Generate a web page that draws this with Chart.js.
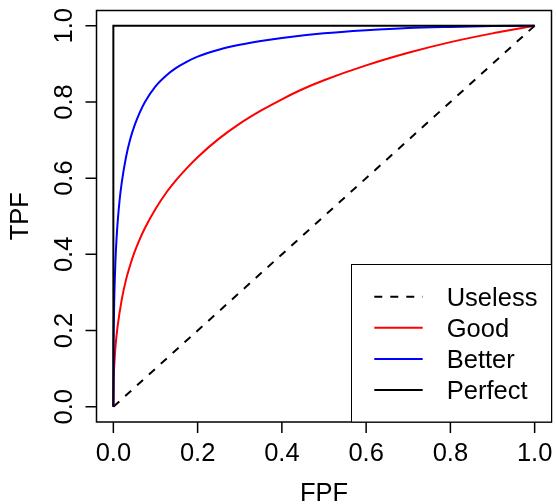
<!DOCTYPE html>
<html>
<head>
<meta charset="utf-8">
<script src="https://cdn.jsdelivr.net/npm/chart.js@4/dist/chart.umd.min.js"></script>
<style>
    html, body { margin: 0; padding: 0; background: #ffffff; }
    #wrap { width: 556px; height: 504px; position: relative; }
</style>
</head>
<body>
<div id="wrap"><canvas id="rocChart"></canvas></div>
<script>
// ROC curves (FPF on x, TPF on y)
const uselessFpf = [0, 1];
const uselessTpf = [0, 1];

const goodFpf = [0, 0.001, 0.003, 0.005, 0.01, 0.02, 0.03, 0.04, 0.05, 0.06, 0.075, 0.1, 0.125, 0.15, 0.175, 0.2, 0.25, 0.3, 0.35, 0.4, 0.45, 0.5, 0.6, 0.7, 0.8, 0.9, 0.95, 1];
const goodTpf = [0, 0.075, 0.125, 0.157, 0.21, 0.282, 0.333, 0.372, 0.405, 0.433, 0.469, 0.519, 0.561, 0.596, 0.627, 0.655, 0.703, 0.743, 0.777, 0.807, 0.834, 0.857, 0.896, 0.929, 0.957, 0.98, 0.99, 1];

const betterFpf = [0, 0.0005, 0.001, 0.002, 0.003, 0.005, 0.0075, 0.01, 0.015, 0.02, 0.03, 0.04, 0.05, 0.0625, 0.075, 0.1, 0.125, 0.15, 0.175, 0.2, 0.25, 0.3, 0.35, 0.4, 0.5, 0.6, 0.7, 0.8, 0.9, 1];
const betterTpf = [0, 0.156, 0.209, 0.275, 0.32, 0.384, 0.44, 0.482, 0.544, 0.589, 0.655, 0.702, 0.737, 0.772, 0.8, 0.841, 0.869, 0.89, 0.906, 0.919, 0.937, 0.95, 0.96, 0.968, 0.98, 0.988, 0.994, 0.997, 0.999, 1];

const perfectFpf = [0, 0, 1];
const perfectTpf = [0, 1, 1];

const legendLabels = ["Useless", "Good", "Better", "Perfect"];
const xTicks = [0, 0.2, 0.4, 0.6, 0.8, 1.0];
const yTicks = [0, 0.2, 0.4, 0.6, 0.8, 1.0];
const xTitle = "FPF";
const yTitle = "TPF";

const FONT = "25.5px 'Liberation Sans', Arial, sans-serif";

function toPoints(xs, ys) {
    return xs.map((x, i) => ({ x, y: ys[i] }));
}

// R style frame, axes and legend
const rFramePlugin = {
    id: "rFrame",
    afterDatasetsDraw(chart) {
        const ctx = chart.ctx;
        const area = chart.chartArea;
        const xs = chart.scales.x;
        const ys = chart.scales.y;

        ctx.save();
        ctx.strokeStyle = "#000";
        ctx.fillStyle = "#000";
        ctx.lineWidth = 1.5;
        ctx.strokeRect(area.left, area.top, area.right - area.left, area.bottom - area.top);

        ctx.font = FONT;

        // x axis
        ctx.beginPath();
        xTicks.forEach(v => {
            const px = xs.getPixelForValue(v);
            ctx.moveTo(px, area.bottom);
            ctx.lineTo(px, area.bottom + 11);
        });
        ctx.stroke();
        ctx.textAlign = "center";
        ctx.textBaseline = "alphabetic";
        xTicks.forEach(v => {
            ctx.fillText(v.toFixed(1), xs.getPixelForValue(v), 461);
        });
        const xMid = (xs.getPixelForValue(0) + xs.getPixelForValue(1)) / 2;
        ctx.fillText(xTitle, xMid, 501);

        // y axis
        ctx.beginPath();
        yTicks.forEach(v => {
            const py = ys.getPixelForValue(v);
            ctx.moveTo(area.left, py);
            ctx.lineTo(area.left - 11, py);
        });
        ctx.stroke();
        yTicks.forEach(v => {
            ctx.save();
            ctx.translate(71.7, ys.getPixelForValue(v));
            ctx.rotate(-Math.PI / 2);
            ctx.fillText(v.toFixed(1), 0, 0);
            ctx.restore();
        });
        const yMid = (ys.getPixelForValue(0) + ys.getPixelForValue(1)) / 2;
        ctx.save();
        ctx.translate(28.3, yMid);
        ctx.rotate(-Math.PI / 2);
        ctx.fillText(yTitle, 0, 0);
        ctx.restore();

        // legend box in the bottom right corner
        const boxLeft = 351.5;
        const boxTop = 264.5;
        ctx.fillStyle = "#fff";
        ctx.fillRect(boxLeft, boxTop, area.right - boxLeft, area.bottom - boxTop);
        ctx.lineWidth = 1;
        ctx.strokeStyle = "#000";
        ctx.strokeRect(boxLeft, boxTop, area.right - boxLeft, area.bottom - boxTop);

        ctx.textAlign = "left";
        chart.data.datasets.forEach((ds, i) => {
            const rowY = 296.7 + i * 31.1;
            ctx.beginPath();
            ctx.strokeStyle = ds.borderColor;
            ctx.lineWidth = 2;
            ctx.setLineDash(ds.borderDash || []);
            ctx.moveTo(374.3, rowY);
            ctx.lineTo(422.7, rowY);
            ctx.stroke();
            ctx.setLineDash([]);
            ctx.fillStyle = "#000";
            ctx.fillText(ds.label, 446.7, rowY + 8.8);
        });
        ctx.restore();
    }
};

new Chart(document.getElementById("rocChart"), {
    type: "scatter",
    data: {
        datasets: [
            {
                label: legendLabels[0],
                data: toPoints(uselessFpf, uselessTpf),
                borderColor: "#000000",
                borderDash: [8, 8],
                order: 4
            },
            {
                label: legendLabels[1],
                data: toPoints(goodFpf, goodTpf),
                borderColor: "#ff0000",
                cubicInterpolationMode: "monotone",
                order: 3
            },
            {
                label: legendLabels[2],
                data: toPoints(betterFpf, betterTpf),
                borderColor: "#0000ff",
                cubicInterpolationMode: "monotone",
                order: 2
            },
            {
                label: legendLabels[3],
                data: toPoints(perfectFpf, perfectTpf),
                borderColor: "#000000",
                order: 1
            }
        ]
    },
    options: {
        responsive: true,
        maintainAspectRatio: false,
        animation: false,
        showLine: true,
        layout: {
            padding: { left: 96.5, top: 10.5, right: 4.5, bottom: 82 }
        },
        elements: {
            point: { radius: 0, hoverRadius: 0 },
            line: { borderWidth: 2, tension: 0, fill: false }
        },
        plugins: {
            legend: { display: false },
            tooltip: { enabled: false }
        },
        scales: {
            x: { type: "linear", min: -0.04, max: 1.04, display: false },
            y: { type: "linear", min: -0.04, max: 1.04, display: false }
        }
    },
    plugins: [rFramePlugin]
});
</script>
</body>
</html>
